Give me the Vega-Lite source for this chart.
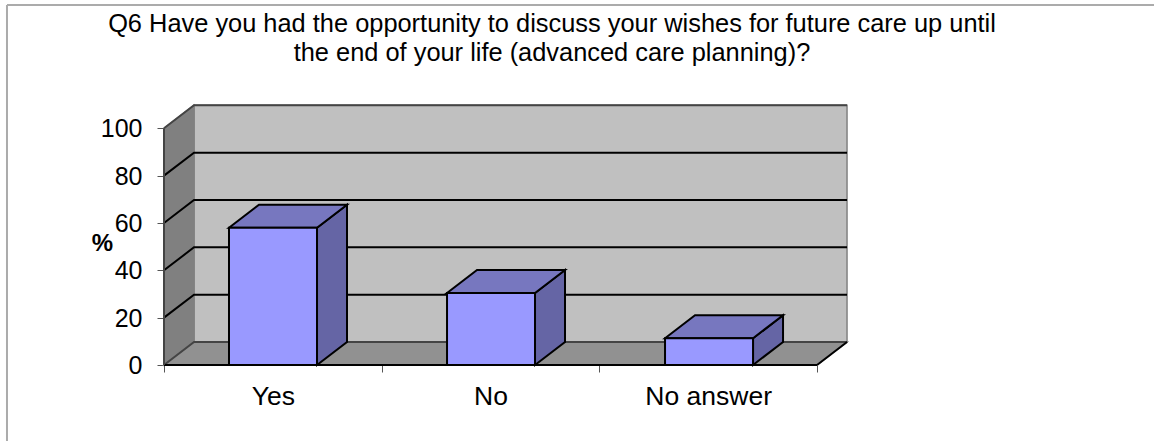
{
"$schema":"https://vega.github.io/schema/vega-lite/v6.json",
"width":1154,"height":441,"padding":0,"autosize":{"type":"none"},
"background":"white",
"config":{"view":{"stroke":null},"font":"Liberation Sans"},
"title":{"text":["Q6 Have you had the opportunity to discuss your wishes for future care up until","the end of your life (advanced care planning)?"],"font":"Liberation Sans","fontSize":25.4,"fontWeight":"normal","color":"#000000","anchor":"middle","frame":"group","dx":-25,"baseline":"alphabetic","offset":-86.5,"lineHeight":29.5},
"datasets":{
"walls":[
{"id":"back","face":"back","x":0.1378,"y":109.72,"y2":9.72},
{"id":"back","face":"back","x":3.1378,"y":109.72,"y2":9.72},
{"id":"left","face":"left","x":0,"y":100,"y2":0},
{"id":"left","face":"left","x":0.1378,"y":109.72,"y2":9.72},
{"id":"floor","face":"floor","x":0,"y":0,"y2":0},
{"id":"floor","face":"floor","x":0.1378,"y":9.72,"y2":0},
{"id":"floor","face":"floor","x":3,"y":9.72,"y2":0},
{"id":"floor","face":"floor","x":3.1378,"y":9.72,"y2":9.72}
],
"lines":[
{"id":"g0","kind":"edge","x":0,"y":0},{"id":"g0","kind":"edge","x":0.1378,"y":9.72},{"id":"g0","kind":"edge","x":3.1378,"y":9.72},
{"id":"g20","kind":"grid","x":0,"y":20},{"id":"g20","kind":"grid","x":0.1378,"y":29.72},{"id":"g20","kind":"grid","x":3.1378,"y":29.72},
{"id":"g40","kind":"grid","x":0,"y":40},{"id":"g40","kind":"grid","x":0.1378,"y":49.72},{"id":"g40","kind":"grid","x":3.1378,"y":49.72},
{"id":"g60","kind":"grid","x":0,"y":60},{"id":"g60","kind":"grid","x":0.1378,"y":69.72},{"id":"g60","kind":"grid","x":3.1378,"y":69.72},
{"id":"g80","kind":"grid","x":0,"y":80},{"id":"g80","kind":"grid","x":0.1378,"y":89.72},{"id":"g80","kind":"grid","x":3.1378,"y":89.72},
{"id":"g100","kind":"edge","x":0,"y":100},{"id":"g100","kind":"edge","x":0.1378,"y":109.72},{"id":"g100","kind":"edge","x":3.1378,"y":109.72},
{"id":"base","kind":"grid","x":0,"y":0},{"id":"base","kind":"grid","x":3,"y":0},
{"id":"rightedge","kind":"grid","x":3,"y":0},{"id":"rightedge","kind":"grid","x":3.1378,"y":9.72},
{"id":"frametop","kind":"frame","x":-0.7213,"y":152.1},{"id":"frametop","kind":"frame","x":4.548,"y":152.1}
],
"verticals":[
{"kind":"frame","x":-0.7213,"y":-32.11,"y2":152.1},
{"kind":"edge","x":0,"y":0,"y2":100}
],
"barfaces":[
{"id":"Yes side","face":"side","x":0.7029,"y":58,"y2":0},{"id":"Yes side","face":"side","x":0.8407,"y":67.72,"y2":9.72},
{"id":"Yes top","face":"top","x":0.2986,"y":58,"y2":58},{"id":"Yes top","face":"top","x":0.4364,"y":67.72,"y2":58},{"id":"Yes top","face":"top","x":0.7029,"y":67.72,"y2":58},{"id":"Yes top","face":"top","x":0.8407,"y":67.72,"y2":67.72},
{"id":"No side","face":"side","x":1.7044,"y":30.4,"y2":0},{"id":"No side","face":"side","x":1.8422,"y":40.12,"y2":9.72},
{"id":"No top","face":"top","x":1.3002,"y":30.4,"y2":30.4},{"id":"No top","face":"top","x":1.438,"y":40.12,"y2":30.4},{"id":"No top","face":"top","x":1.7044,"y":40.12,"y2":30.4},{"id":"No top","face":"top","x":1.8422,"y":40.12,"y2":40.12},
{"id":"NA side","face":"side","x":2.706,"y":11.3,"y2":0},{"id":"NA side","face":"side","x":2.8438,"y":21.02,"y2":9.72},
{"id":"NA top","face":"top","x":2.3017,"y":11.3,"y2":11.3},{"id":"NA top","face":"top","x":2.4395,"y":21.02,"y2":11.3},{"id":"NA top","face":"top","x":2.706,"y":21.02,"y2":11.3},{"id":"NA top","face":"top","x":2.8438,"y":21.02,"y2":21.02}
],
"bars":[
{"category":"Yes","x":0.2986,"x2":0.7029,"value":58},
{"category":"No","x":1.3002,"x2":1.7044,"value":30.4},
{"category":"No answer","x":2.3017,"x2":2.706,"value":11.3}
]
},
"resolve":{"axis":{"x":"independent"}},
"layer":[
{"data":{"name":"walls"},"mark":{"type":"area","orient":"vertical","stroke":"#808080","strokeWidth":1.5,"clip":false},
"encoding":{
"x":{"field":"x","type":"quantitative","scale":{"domain":[-0.7534,4.548],"nice":false,"zero":false},
"axis":{"orient":"bottom","offset":-76,"values":[0,1,2,3],"labels":false,"domain":false,"grid":false,"tickSize":7,"tickColor":"#555555","tickWidth":1,"title":null}},
"y":{"field":"y","type":"quantitative","scale":{"domain":[-32.11,154.2],"nice":false,"zero":false},
"axis":{"orient":"left","offset":-164,"values":[0,20,40,60,80,100],"domain":false,"grid":false,"tickSize":7,"tickColor":"#555555","tickWidth":1,"labelFont":"Liberation Sans","labelFontSize":25,"labelColor":"#000000","labelPadding":15,"labelOffset":0.5,"format":"d",
"title":"%","titleFont":"Liberation Sans","titleFontSize":24,"titleFontWeight":"bold","titleColor":"#000000","titleAngle":0,"titleX":-62,"titleY":250,"titleAlign":"center","titleBaseline":"alphabetic"}},
"y2":{"field":"y2"},
"detail":{"field":"id"},
"fill":{"field":"face","type":"nominal","scale":{"domain":["back","left","floor","side","top"],"range":["#C0C0C0","#808080","#919191","#6565A5","#7777BF"]},"legend":null}
}},
{"data":{"name":"lines"},"mark":{"type":"line","strokeWidth":2},
"encoding":{
"x":{"field":"x","type":"quantitative","axis":{"orient":"bottom","offset":-76,"values":[0.5,1.5,2.5],"labelExpr":"datum.value==0.5?'Yes':datum.value==1.5?'No':'No answer'","labelFont":"Liberation Sans","labelFontSize":26.5,"labelColor":"#000000","labelPadding":18,"ticks":false,"domain":false,"grid":false,"title":null}},
"y":{"field":"y","type":"quantitative"},
"detail":{"field":"id"},
"stroke":{"field":"kind","type":"nominal","scale":{"domain":["grid","edge","frame"],"range":["#000000","#444444","#ABABAB"]},"legend":null}
}},
{"data":{"name":"verticals"},"mark":{"type":"rule","strokeWidth":2},
"encoding":{
"x":{"field":"x","type":"quantitative","axis":null},
"y":{"field":"y","type":"quantitative"},
"y2":{"field":"y2"},
"stroke":{"field":"kind","type":"nominal","legend":null}
}},
{"data":{"name":"barfaces"},"mark":{"type":"area","orient":"vertical","stroke":"#000000","strokeWidth":2},
"encoding":{
"x":{"field":"x","type":"quantitative","axis":null},
"y":{"field":"y","type":"quantitative"},
"y2":{"field":"y2"},
"detail":{"field":"id"},
"fill":{"field":"face","type":"nominal","legend":null}
}},
{"data":{"name":"bars"},"mark":{"type":"rect","fill":"#9999FF","stroke":"#000000","strokeWidth":2},
"encoding":{
"x":{"field":"x","type":"quantitative","axis":null},
"x2":{"field":"x2"},
"y":{"field":"value","type":"quantitative"},
"y2":{"datum":0}
}}
]
}
